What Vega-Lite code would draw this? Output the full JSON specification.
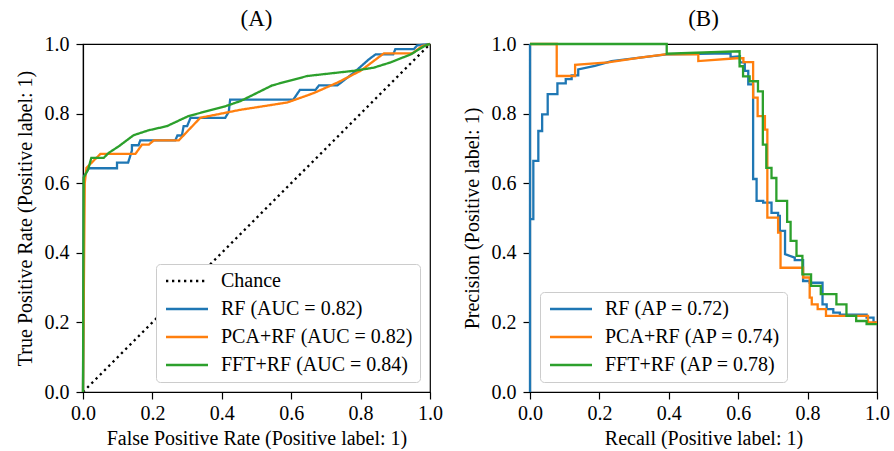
{
  "$schema": "https://vega.github.io/schema/vega-lite/v6.json",
  "background": "white",
  "padding": {"left": 14, "top": 7, "right": 5, "bottom": 0},
  "spacing": 17,
  "config": {
    "font": "Liberation Serif",
    "view": {"stroke": "black", "strokeWidth": 1.2},
    "axis": {"labelFont": "Liberation Serif", "labelFontSize": 20, "titleFont": "Liberation Serif", "titleFontSize": 20, "titleFontWeight": "normal", "labelColor": "black", "titleColor": "black", "domainColor": "black", "tickColor": "black", "tickSize": 7, "tickWidth": 1.2, "domainWidth": 1.2, "grid": false, "labelPadding": 7, "titlePadding": 9, "labelFlush": false, "labelOverlap": false},
    "axisX": {"labelPadding": 4, "titlePadding": 5},
    "title": {"font": "Liberation Serif", "fontSize": 23, "fontWeight": "normal", "color": "black", "offset": 3},
    "legend": {"title": null, "labelFont": "Liberation Serif", "labelFontSize": 20, "labelColor": "black", "labelLimit": 400, "fillColor": "white", "strokeColor": "#cccccc", "cornerRadius": 4, "padding": 7, "offset": 10, "symbolType": "M-3,0H3", "symbolSize": 196, "symbolStrokeWidth": 2.4, "symbolOffset": 14, "labelOffset": 24, "rowPadding": 8}
  },
  "datasets": {
    "roc": [
      {"s": "Chance", "i": 0, "x": 0, "y": 0},
      {"s": "Chance", "i": 1, "x": 1, "y": 1},
      {"s": "RF (AUC = 0.82)", "i": 0, "x": 0, "y": 0},
      {"s": "RF (AUC = 0.82)", "i": 1, "x": 0.003, "y": 0.62},
      {"s": "RF (AUC = 0.82)", "i": 2, "x": 0.017, "y": 0.643},
      {"s": "RF (AUC = 0.82)", "i": 3, "x": 0.098, "y": 0.643},
      {"s": "RF (AUC = 0.82)", "i": 4, "x": 0.098, "y": 0.659},
      {"s": "RF (AUC = 0.82)", "i": 5, "x": 0.13, "y": 0.659},
      {"s": "RF (AUC = 0.82)", "i": 6, "x": 0.141, "y": 0.694},
      {"s": "RF (AUC = 0.82)", "i": 7, "x": 0.141, "y": 0.709},
      {"s": "RF (AUC = 0.82)", "i": 8, "x": 0.16, "y": 0.709},
      {"s": "RF (AUC = 0.82)", "i": 9, "x": 0.165, "y": 0.723},
      {"s": "RF (AUC = 0.82)", "i": 10, "x": 0.266, "y": 0.723},
      {"s": "RF (AUC = 0.82)", "i": 11, "x": 0.272, "y": 0.737},
      {"s": "RF (AUC = 0.82)", "i": 12, "x": 0.285, "y": 0.737},
      {"s": "RF (AUC = 0.82)", "i": 13, "x": 0.29, "y": 0.764},
      {"s": "RF (AUC = 0.82)", "i": 14, "x": 0.3, "y": 0.764},
      {"s": "RF (AUC = 0.82)", "i": 15, "x": 0.31, "y": 0.788},
      {"s": "RF (AUC = 0.82)", "i": 16, "x": 0.41, "y": 0.788},
      {"s": "RF (AUC = 0.82)", "i": 17, "x": 0.42, "y": 0.805},
      {"s": "RF (AUC = 0.82)", "i": 18, "x": 0.424, "y": 0.84},
      {"s": "RF (AUC = 0.82)", "i": 19, "x": 0.606, "y": 0.84},
      {"s": "RF (AUC = 0.82)", "i": 20, "x": 0.625, "y": 0.868},
      {"s": "RF (AUC = 0.82)", "i": 21, "x": 0.67, "y": 0.868},
      {"s": "RF (AUC = 0.82)", "i": 22, "x": 0.68, "y": 0.881},
      {"s": "RF (AUC = 0.82)", "i": 23, "x": 0.733, "y": 0.881},
      {"s": "RF (AUC = 0.82)", "i": 24, "x": 0.781, "y": 0.918},
      {"s": "RF (AUC = 0.82)", "i": 25, "x": 0.824, "y": 0.956},
      {"s": "RF (AUC = 0.82)", "i": 26, "x": 0.843, "y": 0.97},
      {"s": "RF (AUC = 0.82)", "i": 27, "x": 0.894, "y": 0.97},
      {"s": "RF (AUC = 0.82)", "i": 28, "x": 0.9, "y": 0.985},
      {"s": "RF (AUC = 0.82)", "i": 29, "x": 0.953, "y": 0.985},
      {"s": "RF (AUC = 0.82)", "i": 30, "x": 0.963, "y": 0.996},
      {"s": "RF (AUC = 0.82)", "i": 31, "x": 1, "y": 1},
      {"s": "PCA+RF (AUC = 0.82)", "i": 0, "x": 0, "y": 0},
      {"s": "PCA+RF (AUC = 0.82)", "i": 1, "x": 0.005, "y": 0.6},
      {"s": "PCA+RF (AUC = 0.82)", "i": 2, "x": 0.01, "y": 0.644},
      {"s": "PCA+RF (AUC = 0.82)", "i": 3, "x": 0.05, "y": 0.684},
      {"s": "PCA+RF (AUC = 0.82)", "i": 4, "x": 0.151, "y": 0.684},
      {"s": "PCA+RF (AUC = 0.82)", "i": 5, "x": 0.17, "y": 0.711},
      {"s": "PCA+RF (AUC = 0.82)", "i": 6, "x": 0.19, "y": 0.711},
      {"s": "PCA+RF (AUC = 0.82)", "i": 7, "x": 0.204, "y": 0.723},
      {"s": "PCA+RF (AUC = 0.82)", "i": 8, "x": 0.276, "y": 0.723},
      {"s": "PCA+RF (AUC = 0.82)", "i": 9, "x": 0.338, "y": 0.788},
      {"s": "PCA+RF (AUC = 0.82)", "i": 10, "x": 0.454, "y": 0.811},
      {"s": "PCA+RF (AUC = 0.82)", "i": 11, "x": 0.589, "y": 0.832},
      {"s": "PCA+RF (AUC = 0.82)", "i": 12, "x": 0.665, "y": 0.859},
      {"s": "PCA+RF (AUC = 0.82)", "i": 13, "x": 0.733, "y": 0.889},
      {"s": "PCA+RF (AUC = 0.82)", "i": 14, "x": 0.8, "y": 0.923},
      {"s": "PCA+RF (AUC = 0.82)", "i": 15, "x": 0.867, "y": 0.973},
      {"s": "PCA+RF (AUC = 0.82)", "i": 16, "x": 0.949, "y": 0.973},
      {"s": "PCA+RF (AUC = 0.82)", "i": 17, "x": 0.977, "y": 0.994},
      {"s": "PCA+RF (AUC = 0.82)", "i": 18, "x": 1, "y": 1},
      {"s": "FFT+RF (AUC = 0.84)", "i": 0, "x": 0, "y": 0},
      {"s": "FFT+RF (AUC = 0.84)", "i": 1, "x": 0.002, "y": 0.616},
      {"s": "FFT+RF (AUC = 0.84)", "i": 2, "x": 0.015, "y": 0.64},
      {"s": "FFT+RF (AUC = 0.84)", "i": 3, "x": 0.024, "y": 0.673},
      {"s": "FFT+RF (AUC = 0.84)", "i": 4, "x": 0.06, "y": 0.673},
      {"s": "FFT+RF (AUC = 0.84)", "i": 5, "x": 0.074, "y": 0.687},
      {"s": "FFT+RF (AUC = 0.84)", "i": 6, "x": 0.103, "y": 0.706},
      {"s": "FFT+RF (AUC = 0.84)", "i": 7, "x": 0.146, "y": 0.738},
      {"s": "FFT+RF (AUC = 0.84)", "i": 8, "x": 0.189, "y": 0.752},
      {"s": "FFT+RF (AUC = 0.84)", "i": 9, "x": 0.242, "y": 0.764},
      {"s": "FFT+RF (AUC = 0.84)", "i": 10, "x": 0.304, "y": 0.793},
      {"s": "FFT+RF (AUC = 0.84)", "i": 11, "x": 0.41, "y": 0.821},
      {"s": "FFT+RF (AUC = 0.84)", "i": 12, "x": 0.454, "y": 0.836},
      {"s": "FFT+RF (AUC = 0.84)", "i": 13, "x": 0.545, "y": 0.881},
      {"s": "FFT+RF (AUC = 0.84)", "i": 14, "x": 0.646, "y": 0.908},
      {"s": "FFT+RF (AUC = 0.84)", "i": 15, "x": 0.781, "y": 0.923},
      {"s": "FFT+RF (AUC = 0.84)", "i": 16, "x": 0.838, "y": 0.932},
      {"s": "FFT+RF (AUC = 0.84)", "i": 17, "x": 0.886, "y": 0.947},
      {"s": "FFT+RF (AUC = 0.84)", "i": 18, "x": 0.944, "y": 0.97},
      {"s": "FFT+RF (AUC = 0.84)", "i": 19, "x": 0.987, "y": 0.996},
      {"s": "FFT+RF (AUC = 0.84)", "i": 20, "x": 1, "y": 1}
    ],
    "pr": [
      {"s": "RF (AP = 0.72)", "i": 0, "x": 0, "y": 1},
      {"s": "RF (AP = 0.72)", "i": 1, "x": 0, "y": 0},
      {"s": "RF (AP = 0.72)", "i": 2, "x": 0, "y": 0.497},
      {"s": "RF (AP = 0.72)", "i": 3, "x": 0.0096, "y": 0.497},
      {"s": "RF (AP = 0.72)", "i": 4, "x": 0.0096, "y": 0.664},
      {"s": "RF (AP = 0.72)", "i": 5, "x": 0.024, "y": 0.664},
      {"s": "RF (AP = 0.72)", "i": 6, "x": 0.024, "y": 0.75},
      {"s": "RF (AP = 0.72)", "i": 7, "x": 0.035, "y": 0.75},
      {"s": "RF (AP = 0.72)", "i": 8, "x": 0.035, "y": 0.798},
      {"s": "RF (AP = 0.72)", "i": 9, "x": 0.051, "y": 0.798},
      {"s": "RF (AP = 0.72)", "i": 10, "x": 0.051, "y": 0.856},
      {"s": "RF (AP = 0.72)", "i": 11, "x": 0.079, "y": 0.856},
      {"s": "RF (AP = 0.72)", "i": 12, "x": 0.079, "y": 0.887},
      {"s": "RF (AP = 0.72)", "i": 13, "x": 0.103, "y": 0.887},
      {"s": "RF (AP = 0.72)", "i": 14, "x": 0.103, "y": 0.899},
      {"s": "RF (AP = 0.72)", "i": 15, "x": 0.12, "y": 0.899},
      {"s": "RF (AP = 0.72)", "i": 16, "x": 0.12, "y": 0.91},
      {"s": "RF (AP = 0.72)", "i": 17, "x": 0.139, "y": 0.91},
      {"s": "RF (AP = 0.72)", "i": 18, "x": 0.139, "y": 0.927},
      {"s": "RF (AP = 0.72)", "i": 19, "x": 0.187, "y": 0.937},
      {"s": "RF (AP = 0.72)", "i": 20, "x": 0.235, "y": 0.951},
      {"s": "RF (AP = 0.72)", "i": 21, "x": 0.317, "y": 0.961},
      {"s": "RF (AP = 0.72)", "i": 22, "x": 0.394, "y": 0.97},
      {"s": "RF (AP = 0.72)", "i": 23, "x": 0.578, "y": 0.973},
      {"s": "RF (AP = 0.72)", "i": 24, "x": 0.578, "y": 0.962},
      {"s": "RF (AP = 0.72)", "i": 25, "x": 0.605, "y": 0.965},
      {"s": "RF (AP = 0.72)", "i": 26, "x": 0.605, "y": 0.947},
      {"s": "RF (AP = 0.72)", "i": 27, "x": 0.619, "y": 0.947},
      {"s": "RF (AP = 0.72)", "i": 28, "x": 0.619, "y": 0.923},
      {"s": "RF (AP = 0.72)", "i": 29, "x": 0.629, "y": 0.923},
      {"s": "RF (AP = 0.72)", "i": 30, "x": 0.629, "y": 0.884},
      {"s": "RF (AP = 0.72)", "i": 31, "x": 0.643, "y": 0.884},
      {"s": "RF (AP = 0.72)", "i": 32, "x": 0.643, "y": 0.612},
      {"s": "RF (AP = 0.72)", "i": 33, "x": 0.653, "y": 0.612},
      {"s": "RF (AP = 0.72)", "i": 34, "x": 0.653, "y": 0.549},
      {"s": "RF (AP = 0.72)", "i": 35, "x": 0.672, "y": 0.549},
      {"s": "RF (AP = 0.72)", "i": 36, "x": 0.672, "y": 0.544},
      {"s": "RF (AP = 0.72)", "i": 37, "x": 0.696, "y": 0.544},
      {"s": "RF (AP = 0.72)", "i": 38, "x": 0.696, "y": 0.515},
      {"s": "RF (AP = 0.72)", "i": 39, "x": 0.715, "y": 0.515},
      {"s": "RF (AP = 0.72)", "i": 40, "x": 0.715, "y": 0.506},
      {"s": "RF (AP = 0.72)", "i": 41, "x": 0.72, "y": 0.506},
      {"s": "RF (AP = 0.72)", "i": 42, "x": 0.72, "y": 0.463},
      {"s": "RF (AP = 0.72)", "i": 43, "x": 0.735, "y": 0.463},
      {"s": "RF (AP = 0.72)", "i": 44, "x": 0.735, "y": 0.396},
      {"s": "RF (AP = 0.72)", "i": 45, "x": 0.763, "y": 0.386},
      {"s": "RF (AP = 0.72)", "i": 46, "x": 0.763, "y": 0.379},
      {"s": "RF (AP = 0.72)", "i": 47, "x": 0.787, "y": 0.379},
      {"s": "RF (AP = 0.72)", "i": 48, "x": 0.787, "y": 0.319},
      {"s": "RF (AP = 0.72)", "i": 49, "x": 0.806, "y": 0.319},
      {"s": "RF (AP = 0.72)", "i": 50, "x": 0.806, "y": 0.314},
      {"s": "RF (AP = 0.72)", "i": 51, "x": 0.843, "y": 0.314},
      {"s": "RF (AP = 0.72)", "i": 52, "x": 0.843, "y": 0.252},
      {"s": "RF (AP = 0.72)", "i": 53, "x": 0.855, "y": 0.252},
      {"s": "RF (AP = 0.72)", "i": 54, "x": 0.855, "y": 0.238},
      {"s": "RF (AP = 0.72)", "i": 55, "x": 0.874, "y": 0.238},
      {"s": "RF (AP = 0.72)", "i": 56, "x": 0.874, "y": 0.228},
      {"s": "RF (AP = 0.72)", "i": 57, "x": 0.893, "y": 0.228},
      {"s": "RF (AP = 0.72)", "i": 58, "x": 0.893, "y": 0.222},
      {"s": "RF (AP = 0.72)", "i": 59, "x": 0.97, "y": 0.222},
      {"s": "RF (AP = 0.72)", "i": 60, "x": 0.97, "y": 0.214},
      {"s": "RF (AP = 0.72)", "i": 61, "x": 0.99, "y": 0.214},
      {"s": "RF (AP = 0.72)", "i": 62, "x": 0.99, "y": 0.2},
      {"s": "RF (AP = 0.72)", "i": 63, "x": 1, "y": 0.2},
      {"s": "PCA+RF (AP = 0.74)", "i": 0, "x": 0, "y": 1},
      {"s": "PCA+RF (AP = 0.74)", "i": 1, "x": 0.077, "y": 1},
      {"s": "PCA+RF (AP = 0.74)", "i": 2, "x": 0.077, "y": 0.908},
      {"s": "PCA+RF (AP = 0.74)", "i": 3, "x": 0.13, "y": 0.908},
      {"s": "PCA+RF (AP = 0.74)", "i": 4, "x": 0.13, "y": 0.94},
      {"s": "PCA+RF (AP = 0.74)", "i": 5, "x": 0.225, "y": 0.947},
      {"s": "PCA+RF (AP = 0.74)", "i": 6, "x": 0.317, "y": 0.961},
      {"s": "PCA+RF (AP = 0.74)", "i": 7, "x": 0.389, "y": 0.97},
      {"s": "PCA+RF (AP = 0.74)", "i": 8, "x": 0.485, "y": 0.97},
      {"s": "PCA+RF (AP = 0.74)", "i": 9, "x": 0.485, "y": 0.951},
      {"s": "PCA+RF (AP = 0.74)", "i": 10, "x": 0.595, "y": 0.959},
      {"s": "PCA+RF (AP = 0.74)", "i": 11, "x": 0.615, "y": 0.959},
      {"s": "PCA+RF (AP = 0.74)", "i": 12, "x": 0.615, "y": 0.948},
      {"s": "PCA+RF (AP = 0.74)", "i": 13, "x": 0.643, "y": 0.948},
      {"s": "PCA+RF (AP = 0.74)", "i": 14, "x": 0.643, "y": 0.846},
      {"s": "PCA+RF (AP = 0.74)", "i": 15, "x": 0.656, "y": 0.846},
      {"s": "PCA+RF (AP = 0.74)", "i": 16, "x": 0.656, "y": 0.793},
      {"s": "PCA+RF (AP = 0.74)", "i": 17, "x": 0.677, "y": 0.793},
      {"s": "PCA+RF (AP = 0.74)", "i": 18, "x": 0.677, "y": 0.754},
      {"s": "PCA+RF (AP = 0.74)", "i": 19, "x": 0.684, "y": 0.754},
      {"s": "PCA+RF (AP = 0.74)", "i": 20, "x": 0.684, "y": 0.501},
      {"s": "PCA+RF (AP = 0.74)", "i": 21, "x": 0.715, "y": 0.501},
      {"s": "PCA+RF (AP = 0.74)", "i": 22, "x": 0.715, "y": 0.458},
      {"s": "PCA+RF (AP = 0.74)", "i": 23, "x": 0.722, "y": 0.458},
      {"s": "PCA+RF (AP = 0.74)", "i": 24, "x": 0.722, "y": 0.357},
      {"s": "PCA+RF (AP = 0.74)", "i": 25, "x": 0.787, "y": 0.357},
      {"s": "PCA+RF (AP = 0.74)", "i": 26, "x": 0.787, "y": 0.329},
      {"s": "PCA+RF (AP = 0.74)", "i": 27, "x": 0.806, "y": 0.329},
      {"s": "PCA+RF (AP = 0.74)", "i": 28, "x": 0.806, "y": 0.271},
      {"s": "PCA+RF (AP = 0.74)", "i": 29, "x": 0.812, "y": 0.271},
      {"s": "PCA+RF (AP = 0.74)", "i": 30, "x": 0.812, "y": 0.252},
      {"s": "PCA+RF (AP = 0.74)", "i": 31, "x": 0.829, "y": 0.252},
      {"s": "PCA+RF (AP = 0.74)", "i": 32, "x": 0.829, "y": 0.238},
      {"s": "PCA+RF (AP = 0.74)", "i": 33, "x": 0.853, "y": 0.238},
      {"s": "PCA+RF (AP = 0.74)", "i": 34, "x": 0.853, "y": 0.219},
      {"s": "PCA+RF (AP = 0.74)", "i": 35, "x": 0.974, "y": 0.219},
      {"s": "PCA+RF (AP = 0.74)", "i": 36, "x": 0.974, "y": 0.2},
      {"s": "PCA+RF (AP = 0.74)", "i": 37, "x": 1, "y": 0.2},
      {"s": "FFT+RF (AP = 0.78)", "i": 0, "x": 0, "y": 1},
      {"s": "FFT+RF (AP = 0.78)", "i": 1, "x": 0.394, "y": 1},
      {"s": "FFT+RF (AP = 0.78)", "i": 2, "x": 0.394, "y": 0.972},
      {"s": "FFT+RF (AP = 0.78)", "i": 3, "x": 0.604, "y": 0.979},
      {"s": "FFT+RF (AP = 0.78)", "i": 4, "x": 0.604, "y": 0.936},
      {"s": "FFT+RF (AP = 0.78)", "i": 5, "x": 0.614, "y": 0.936},
      {"s": "FFT+RF (AP = 0.78)", "i": 6, "x": 0.614, "y": 0.907},
      {"s": "FFT+RF (AP = 0.78)", "i": 7, "x": 0.633, "y": 0.907},
      {"s": "FFT+RF (AP = 0.78)", "i": 8, "x": 0.633, "y": 0.893},
      {"s": "FFT+RF (AP = 0.78)", "i": 9, "x": 0.657, "y": 0.893},
      {"s": "FFT+RF (AP = 0.78)", "i": 10, "x": 0.657, "y": 0.864},
      {"s": "FFT+RF (AP = 0.78)", "i": 11, "x": 0.671, "y": 0.864},
      {"s": "FFT+RF (AP = 0.78)", "i": 12, "x": 0.671, "y": 0.711},
      {"s": "FFT+RF (AP = 0.78)", "i": 13, "x": 0.681, "y": 0.711},
      {"s": "FFT+RF (AP = 0.78)", "i": 14, "x": 0.681, "y": 0.644},
      {"s": "FFT+RF (AP = 0.78)", "i": 15, "x": 0.696, "y": 0.644},
      {"s": "FFT+RF (AP = 0.78)", "i": 16, "x": 0.696, "y": 0.615},
      {"s": "FFT+RF (AP = 0.78)", "i": 17, "x": 0.71, "y": 0.615},
      {"s": "FFT+RF (AP = 0.78)", "i": 18, "x": 0.71, "y": 0.549},
      {"s": "FFT+RF (AP = 0.78)", "i": 19, "x": 0.741, "y": 0.549},
      {"s": "FFT+RF (AP = 0.78)", "i": 20, "x": 0.741, "y": 0.489},
      {"s": "FFT+RF (AP = 0.78)", "i": 21, "x": 0.751, "y": 0.489},
      {"s": "FFT+RF (AP = 0.78)", "i": 22, "x": 0.751, "y": 0.434},
      {"s": "FFT+RF (AP = 0.78)", "i": 23, "x": 0.768, "y": 0.434},
      {"s": "FFT+RF (AP = 0.78)", "i": 24, "x": 0.768, "y": 0.391},
      {"s": "FFT+RF (AP = 0.78)", "i": 25, "x": 0.785, "y": 0.391},
      {"s": "FFT+RF (AP = 0.78)", "i": 26, "x": 0.785, "y": 0.338},
      {"s": "FFT+RF (AP = 0.78)", "i": 27, "x": 0.81, "y": 0.338},
      {"s": "FFT+RF (AP = 0.78)", "i": 28, "x": 0.81, "y": 0.305},
      {"s": "FFT+RF (AP = 0.78)", "i": 29, "x": 0.838, "y": 0.305},
      {"s": "FFT+RF (AP = 0.78)", "i": 30, "x": 0.838, "y": 0.281},
      {"s": "FFT+RF (AP = 0.78)", "i": 31, "x": 0.883, "y": 0.281},
      {"s": "FFT+RF (AP = 0.78)", "i": 32, "x": 0.883, "y": 0.252},
      {"s": "FFT+RF (AP = 0.78)", "i": 33, "x": 0.912, "y": 0.252},
      {"s": "FFT+RF (AP = 0.78)", "i": 34, "x": 0.912, "y": 0.219},
      {"s": "FFT+RF (AP = 0.78)", "i": 35, "x": 0.94, "y": 0.219},
      {"s": "FFT+RF (AP = 0.78)", "i": 36, "x": 0.94, "y": 0.204},
      {"s": "FFT+RF (AP = 0.78)", "i": 37, "x": 0.97, "y": 0.204},
      {"s": "FFT+RF (AP = 0.78)", "i": 38, "x": 0.97, "y": 0.195},
      {"s": "FFT+RF (AP = 0.78)", "i": 39, "x": 1, "y": 0.195}
    ]
  },
  "resolve": {"scale": {"color": "independent", "strokeDash": "independent"}, "legend": {"color": "independent", "strokeDash": "independent"}},
  "hconcat": [
    {
      "width": 347,
      "height": 348,
      "title": "(A)",
      "data": {"name": "roc"},
      "mark": {"type": "line", "strokeWidth": 2.3},
      "encoding": {
        "x": {"field": "x", "type": "quantitative", "scale": {"domain": [0, 1], "nice": false, "zero": false}, "axis": {"values": [0, 0.2, 0.4, 0.6, 0.8, 1], "format": ".1f", "title": "False Positive Rate (Positive label: 1)"}},
        "y": {"field": "y", "type": "quantitative", "scale": {"domain": [0, 1], "nice": false, "zero": false}, "axis": {"values": [0, 0.2, 0.4, 0.6, 0.8, 1], "format": ".1f", "title": "True Positive Rate (Positive label: 1)"}},
        "color": {"field": "s", "type": "nominal", "sort": null, "scale": {"domain": ["Chance", "RF (AUC = 0.82)", "PCA+RF (AUC = 0.82)", "FFT+RF (AUC = 0.84)"], "range": ["black", "#1f77b4", "#ff7f0e", "#2ca02c"]}, "legend": {"orient": "bottom-right"}},
        "strokeDash": {"field": "s", "type": "nominal", "sort": null, "scale": {"domain": ["Chance", "RF (AUC = 0.82)", "PCA+RF (AUC = 0.82)", "FFT+RF (AUC = 0.84)"], "range": [[2.3, 3.7], [1, 0], [1, 0], [1, 0]]}, "legend": {"orient": "bottom-right"}},
        "order": {"field": "i", "type": "quantitative"}
      }
    },
    {
      "width": 347,
      "height": 348,
      "title": "(B)",
      "data": {"name": "pr"},
      "mark": {"type": "line", "strokeWidth": 2.3},
      "encoding": {
        "x": {"field": "x", "type": "quantitative", "scale": {"domain": [0, 1], "nice": false, "zero": false}, "axis": {"values": [0, 0.2, 0.4, 0.6, 0.8, 1], "format": ".1f", "title": "Recall (Positive label: 1)"}},
        "y": {"field": "y", "type": "quantitative", "scale": {"domain": [0, 1], "nice": false, "zero": false}, "axis": {"values": [0, 0.2, 0.4, 0.6, 0.8, 1], "format": ".1f", "title": "Precision (Positive label: 1)"}},
        "color": {"field": "s", "type": "nominal", "sort": null, "scale": {"domain": ["RF (AP = 0.72)", "PCA+RF (AP = 0.74)", "FFT+RF (AP = 0.78)"], "range": ["#1f77b4", "#ff7f0e", "#2ca02c"]}, "legend": {"orient": "bottom-left"}},
        "order": {"field": "i", "type": "quantitative"}
      }
    }
  ]
}
